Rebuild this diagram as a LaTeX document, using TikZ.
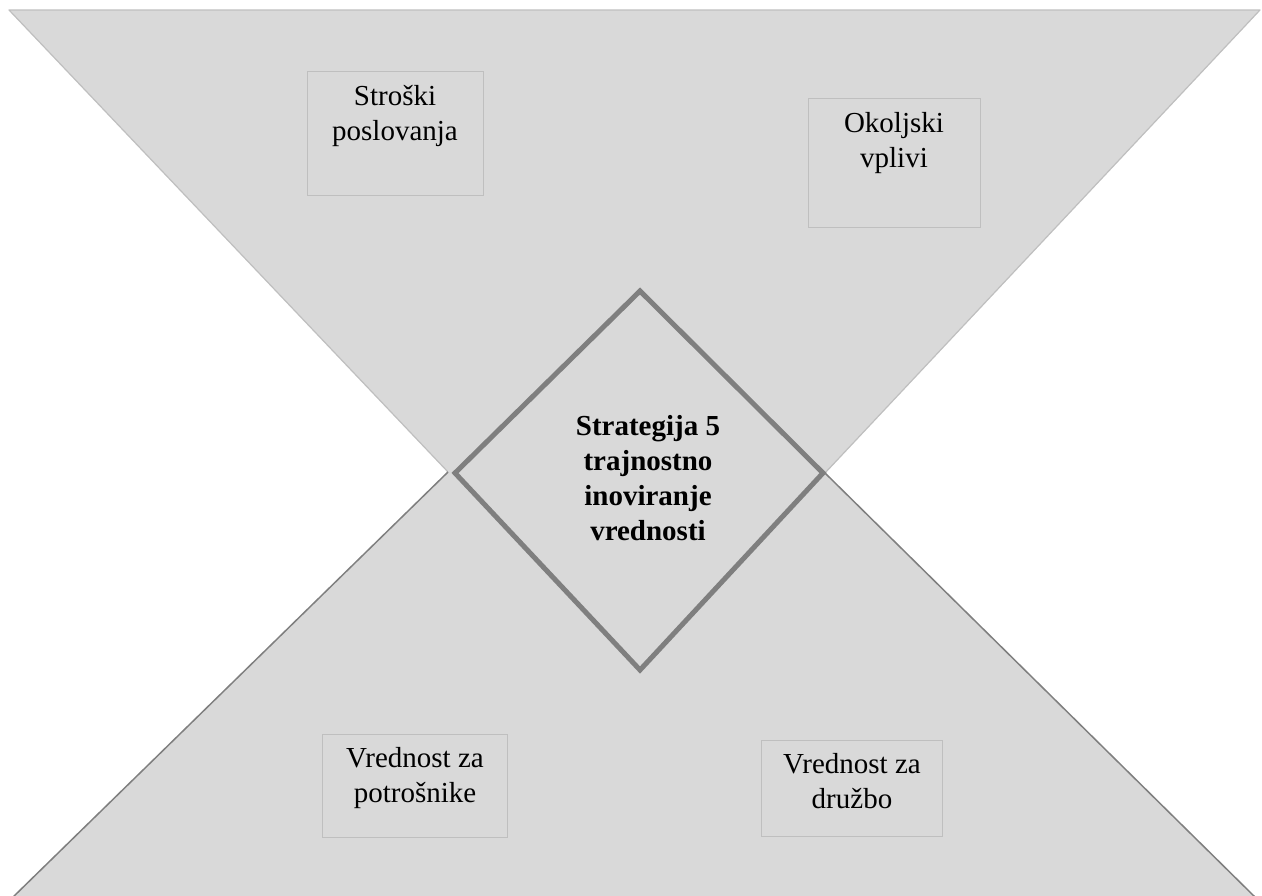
\documentclass[tikz,border=0pt]{standalone}
\usepackage{fontspec}
\setmainfont{Liberation Serif}
\definecolor{panel}{HTML}{D9D9D9}
\definecolor{rimlight}{HTML}{BFBFBF}
\definecolor{rimdark}{HTML}{7F7F7F}
\begin{document}
\begin{tikzpicture}[x=1pt,y=-1pt,
  boxtext/.style={font=\fontsize{29}{35}\selectfont, align=center, inner sep=0pt, anchor=base},
  coretext/.style={font=\fontsize{29}{34.7}\selectfont\bfseries, align=center, inner sep=0pt, anchor=base},
  infobox/.style={draw=rimlight, fill=panel, line width=1pt, inner sep=0pt}
]
\useasboundingbox (0,0) rectangle (1262,895);
\clip (0,0) rectangle (1262,895);

% corner and crossing points of the hourglass
\coordinate (tl) at (9,10);
\coordinate (tr) at (1260,10);
\coordinate (xl) at (448,472);
\coordinate (xr) at (825,473);
\coordinate (bl) at (10,900);
\coordinate (br) at (1258,900);

% upper wedge
\fill[panel] (tl) -- (tr) -- (xr) -- (638,670) -- (xl) -- cycle;
\draw[rimlight, line width=1.2pt, line join=round] (xl) -- (tl) -- (tr) -- (xr);
% lower wedge, running off the bottom edge
\fill[panel] (xl) -- (637,288) -- (xr) -- (br) -- (bl) -- cycle;
\draw[rimdark, line width=1.5pt] (xl) -- (bl);
\draw[rimdark, line width=1.5pt] (xr) -- (br);

% central diamond
\filldraw[fill=panel, draw=rimdark, line width=5pt]
  (640,291) -- (823,473) -- (640,670) -- (455,473) -- cycle;
\node[coretext] (core) at (648,540)
  {Strategija 5\\trajnostno\\inoviranje\\vrednosti};

% four factor boxes
\node[infobox, minimum width=176pt, minimum height=124pt] (costbox) at (395,133) {};
\node[boxtext] (costtext) at (395,140) {Stroški\\poslovanja};

\node[infobox, minimum width=172pt, minimum height=129pt] (envbox) at (894,162.5) {};
\node[boxtext] (envtext) at (894,167) {Okoljski\\vplivi};

\node[infobox, minimum width=185pt, minimum height=103pt] (custbox) at (414.5,785.5) {};
\node[boxtext] (custtext) at (415,802) {Vrednost za\\potrošnike};

\node[infobox, minimum width=181pt, minimum height=96pt] (socbox) at (851.5,788) {};
\node[boxtext] (soctext) at (852,808) {Vrednost za\\družbo};
\end{tikzpicture}
\end{document}
